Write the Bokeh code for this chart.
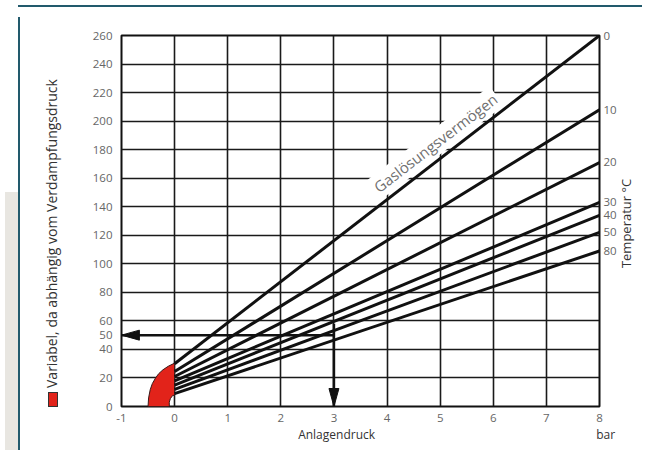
import math
from bokeh.plotting import figure
from bokeh.models import (FixedTicker, Label, LinearAxis, Div, Range1d,
                          ColumnDataSource)
from bokeh.layouts import row, column
from bokeh.embed import file_html
from bokeh.resources import INLINE

# ---------------- data ----------------
x_ticks = [-1, 0, 1, 2, 3, 4, 5, 6, 7, 8]
y_ticks = [0, 20, 40, 50, 60, 80, 100, 120, 140, 160, 180, 200, 220, 240, 260]
y_grid_ticks = [0, 20, 40, 60, 80, 100, 120, 140, 160, 180, 200, 220, 240, 260]

temperatures = ["0", "10", "20", "30", "40", "50", "80"]
pressure_start = [0, 0, 0, 0, 0, 0, 0]
pressure_end = [8, 8, 8, 8, 8, 8, 8]
solubility_start = [30, 24.5, 21, 18, 15, 12, 9]
solubility_end = [260, 208, 171, 143, 134, 122, 109]

# red area: "Variabel, da abhängig vom Verdampfungsdruck"
red_x = [-0.5, -0.49, -0.46, -0.42, -0.36, -0.3, -0.22, -0.12, 0, 0, -0.04, -0.08, -0.1, -0.1]
red_y = [0, 6, 11.7, 16, 19.9, 23, 25.7, 28.2, 30.4, 8, 7.6, 5.5, 3, 0]

# reading example
example_pressure = 3
example_top = 58
example_solubility = 50
x_min, x_max = -1, 8
y_min, y_max = 0, 260

x_title = "Anlagendruck"
x_unit = "bar"
y_title = "Variabel, da abhängig vom Verdampfungsdruck"
t_title = "Temperatur °C"
curve_title = "Gaslösungsvermögen"

# ---------------- layout constants ----------------
FONT = "Open Sans"
TEAL = "#225a6c"
RED = "#e2231a"
W, H = 583, 433
BL, BR, BT, BB = 57, 45, 23, 39
frame_w = W - BL - BR
frame_h = H - BT - BB
px_per_x = frame_w / (x_max - x_min)
px_per_y = frame_h / (y_max - y_min)
x_title_pos = 3.05      # where the x caption is centred
t_title_start = 97      # where the rotated temperature caption starts
NBSP = "\u00a0"

p = figure(width=W, height=H, x_range=Range1d(x_min, x_max), y_range=Range1d(y_min, y_max),
           output_backend="svg", toolbar_location=None,
           min_border_left=BL, min_border_right=BR, min_border_top=BT, min_border_bottom=BB)
p.background_fill_color = "white"
p.border_fill_color = "white"
p.outline_line_color = "#111111"
p.outline_line_width = 2

# second x axis carrying the axis caption and the unit
x_caption_axis = LinearAxis(ticker=FixedTicker(ticks=[x_title_pos, x_max]),
                            major_label_overrides={x_title_pos: x_title,
                                                   x_max: NBSP * 4 + x_unit})
p.add_layout(x_caption_axis, "below")
# right axis: temperatures at the line ends
t_axis = LinearAxis(ticker=FixedTicker(ticks=solubility_end),
                    major_label_overrides={v: t for v, t in zip(solubility_end, temperatures)})
p.add_layout(t_axis, "right")
# outer right axis: rotated caption "Temperatur °C"
t_caption_axis = LinearAxis(ticker=FixedTicker(ticks=[t_title_start]),
                            major_label_overrides={t_title_start: t_title},
                            major_label_orientation=math.pi / 2)
p.add_layout(t_caption_axis, "right")

for ax in p.xaxis + p.yaxis:
    ax.axis_line_color = None
    ax.major_tick_line_color = None
    ax.minor_tick_line_color = None
    ax.major_tick_out = 0
    ax.major_tick_in = 0
    ax.major_label_text_font = FONT
    ax.major_label_text_font_size = "11.5px"
    ax.major_label_text_color = "#666666"

p.xaxis[0].ticker = FixedTicker(ticks=x_ticks)
p.xaxis[0].major_label_overrides = {t: str(t) for t in x_ticks}
p.xaxis[0].major_label_standoff = 7
p.yaxis[0].ticker = FixedTicker(ticks=y_ticks)
p.yaxis[0].major_label_overrides = {t: str(t) for t in y_ticks}
p.yaxis[0].major_label_standoff = 9

x_caption_axis.major_label_standoff = 1
x_caption_axis.major_label_text_color = "#333333"
x_caption_axis.major_label_text_font_size = "12px"

t_axis.major_label_standoff = 4
t_caption_axis.major_label_standoff = 7
t_caption_axis.major_label_text_color = "#333333"
t_caption_axis.major_label_text_font_size = "13px"

p.xgrid.ticker = FixedTicker(ticks=x_ticks[1:-1])
p.ygrid.ticker = FixedTicker(ticks=y_grid_ticks)
for g in (p.xgrid[0], p.ygrid[0]):
    g.grid_line_color = "#1a1a1a"
    g.grid_line_width = 1.6
    g.level = "image"

# red region
p.patch(red_x, red_y, fill_color=RED, line_color="#3a1a1a", line_width=1)

# temperature lines
src = ColumnDataSource(dict(x0=pressure_start, y0=solubility_start,
                            x1=pressure_end, y1=solubility_end, t=temperatures))
p.segment("x0", "y0", "x1", "y1", source=src, line_width=3, line_color="#111111")

# example arrows
p.segment([example_pressure, example_pressure], [example_solubility, example_top],
          [x_min, example_pressure], [example_solubility, y_min],
          line_width=2.5, line_color="#111111")
head_len, head_half = 18, 5
hx = [[x_min, x_min + head_len / px_per_x, x_min + head_len / px_per_x],
      [example_pressure, example_pressure - head_half / px_per_x, example_pressure + head_half / px_per_x]]
hy = [[example_solubility, example_solubility + head_half / px_per_y, example_solubility - head_half / px_per_y],
      [y_min, y_min + head_len / px_per_y, y_min + head_len / px_per_y]]
p.patches(hx, hy, fill_color="#111111", line_color="#111111")

# Gaslösungsvermögen label along the 0 °C line
slope = (solubility_end[0] - solubility_start[0]) / (pressure_end[0] - pressure_start[0])
angle = math.atan(slope * px_per_y / px_per_x)
gx = 3.93
gy = solubility_start[0] + slope * (gx - pressure_start[0])
gas = Label(x=gx, y=gy, text=curve_title, angle=angle,
            x_offset=-2, y_offset=3, text_align="left", text_baseline="bottom",
            text_font=FONT, text_font_size="15px", text_color="#707070",
            background_fill_color="white", padding=2, level="underlay")
p.add_layout(gas)

# ---------------- surrounding page elements ----------------
top_bar = Div(text="", width=637, height=2,
              styles={"background": f"linear-gradient(to right, transparent 13px, {TEAL} 13px)",
                      "overflow": "hidden"})

left_html = (
    '<div style="position:relative;width:54px;height:433px;overflow:visible;">'
    '<div style="position:absolute;left:38px;top:390px;transform:rotate(-90deg);'
    'transform-origin:left top;white-space:nowrap;font-family:\'Open Sans\';'
    'font-size:14px;line-height:17px;height:17px;color:#333333;">'
    f'<span style="display:inline-block;width:15px;height:10px;background:{RED};'
    'border:1px solid #333333;vertical-align:middle;margin-right:4px;"></span>'
    f'{y_title}</div>'
    '</div>'
)
left = Div(text=left_html, width=54, height=433,
           styles={"background": f"linear-gradient({TEAL},{TEAL}) 13px 0/2px 100% no-repeat, "
                                 "linear-gradient(#e8e6e1,#e8e6e1) 0 175px/13px 100% no-repeat, #ffffff"})

layout = column(top_bar, row(left, p))
open("out.html", "w").write(file_html(layout, INLINE))
